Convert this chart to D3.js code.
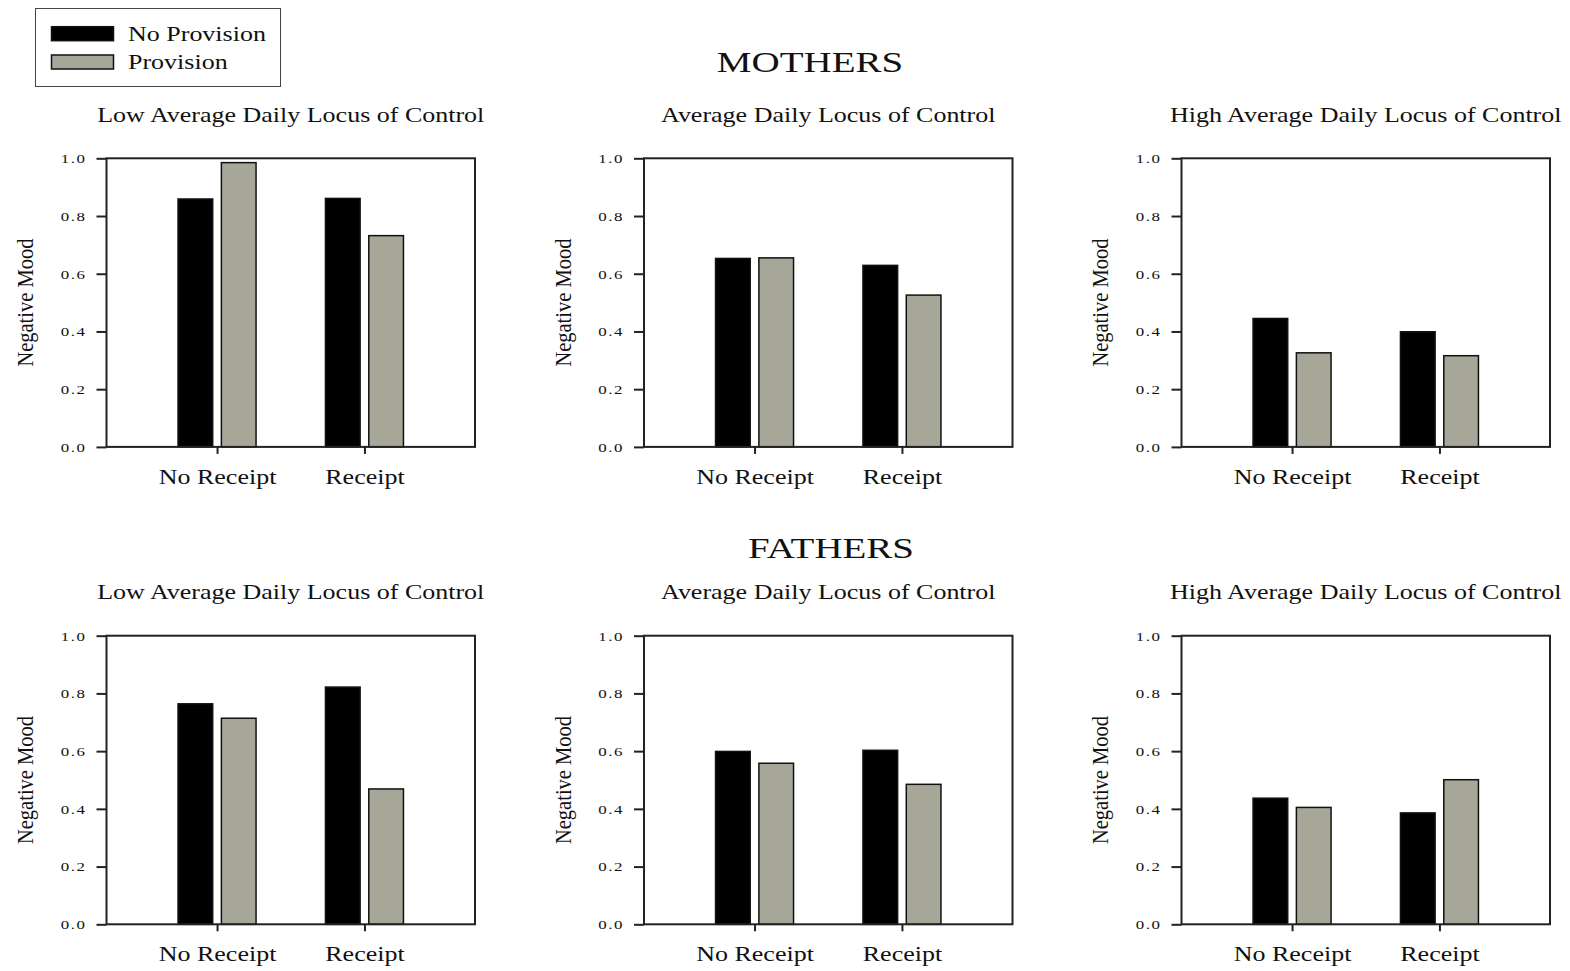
<!DOCTYPE html>
<html>
<head>
<meta charset="utf-8">
<script src="https://cdn.jsdelivr.net/npm/d3@7"></script>
<style>
  body { margin: 0; background: #fff; }
  text { font-family: "Liberation Serif", "Times New Roman", serif; fill: #111; }
</style>
</head>
<body>
<div id="canvas"></div>
<script>
"use strict"

/* Data */
let groupTitles = ["MOTHERS", "FATHERS"];
let panelTitles = ["Low Average Daily Locus of Control", "Average Daily Locus of Control", "High Average Daily Locus of Control"];
let receiptCats = ["No Receipt", "Receipt"];
let seriesNames = ["No Provision", "Provision"];
let yTickValues = [0, 0.2, 0.4, 0.6, 0.8, 1.0];

// each entry: one panel, values for [No Receipt, Receipt]
let mothersNoProvision = [[0.859, 0.861], [0.653, 0.629], [0.445, 0.399]];
let mothersProvision   = [[0.985, 0.732], [0.655, 0.526], [0.326, 0.316]];
let fathersNoProvision = [[0.764, 0.822], [0.599, 0.603], [0.437, 0.386]];
let fathersProvision   = [[0.714, 0.469], [0.558, 0.485], [0.405, 0.501]];

/* Drawing config */
let svgWidth = 1570;
let svgHeight = 971;
let stretch = 1.3;          // the original figure's text is stretched sideways
let colors = ["#000000", "#a7a799"];

let panelLefts = [106.5, 644, 1181.5];
let panelWidth = 368.5;
let rowTops = [158.3, 635.7];
let panelHeight = 288.6;
let groupTitleX = [810, 831];
let groupTitleY = [71.7, 558.3];

let svg = d3.select("#canvas")
    .append("svg")
    .attr("width", svgWidth)
    .attr("height", svgHeight);

function stretchedText(parent, x, y, size, str, anchor) {
    return parent.append("text")
        .attr("transform", "translate(" + x + "," + y + ") scale(" + stretch + ",1)")
        .attr("font-size", size)
        .attr("text-anchor", anchor || "middle")
        .text(str);
}

/* Legend */
svg.append("rect")
    .attr("x", 35.5).attr("y", 8.5)
    .attr("width", 245).attr("height", 78)
    .attr("fill", "none")
    .attr("stroke", "#444")
    .attr("stroke-width", 1);

let legendY = [26.7, 55];
for (let i = 0; i < seriesNames.length; i++) {
    svg.append("rect")
        .attr("x", 51.5).attr("y", legendY[i])
        .attr("width", 62).attr("height", 14)
        .attr("fill", colors[i])
        .attr("stroke", "#111")
        .attr("stroke-width", 1.5);
    stretchedText(svg, 128, legendY[i] + 14, 20, seriesNames[i], "start");
}

let datasets = [
    [mothersNoProvision, mothersProvision],
    [fathersNoProvision, fathersProvision]
];

let yScale = d3.scaleLinear().domain([0, 1]).range([panelHeight, 0]);
let xScale = d3.scalePoint().domain(receiptCats).range([0, panelWidth]).padding(0.75);
let seriesScale = d3.scaleBand().domain(seriesNames).range([-39, 39]).paddingInner(0.2);

for (let r = 0; r < groupTitles.length; r++) {
    stretchedText(svg, groupTitleX[r], groupTitleY[r], 30, groupTitles[r]);

    for (let p = 0; p < panelTitles.length; p++) {
        let g = svg.append("g")
            .attr("transform", "translate(" + panelLefts[p] + "," + rowTops[r] + ")");

        stretchedText(g, panelWidth / 2, -36.8, 20, panelTitles[p]);

        // bars
        let rows = [];
        receiptCats.forEach(function(cat, ci) {
            seriesNames.forEach(function(s, si) {
                rows.push({cat: cat, series: s, si: si, value: datasets[r][si][p][ci]});
            });
        });

        g.selectAll("rect.bar")
            .data(rows)
            .join("rect")
            .attr("class", "bar")
            .attr("x", function(d) { return xScale(d.cat) + seriesScale(d.series); })
            .attr("y", function(d) { return yScale(d.value); })
            .attr("width", seriesScale.bandwidth())
            .attr("height", function(d) { return panelHeight - yScale(d.value); })
            .attr("fill", function(d) { return colors[d.si]; })
            .attr("stroke", "#111")
            .attr("stroke-width", 1.5);

        // frame
        g.append("rect")
            .attr("width", panelWidth)
            .attr("height", panelHeight)
            .attr("fill", "none")
            .attr("stroke", "#222")
            .attr("stroke-width", 2);

        // y axis
        let yAxis = g.append("g")
            .call(d3.axisLeft(yScale)
                .tickValues(yTickValues)
                .tickSize(10)
                .tickSizeOuter(0)
                .tickPadding(10)
                .tickFormat(d3.format(".1f")));
        yAxis.select(".domain").remove();
        yAxis.selectAll("line").attr("stroke", "#222").attr("stroke-width", 2);
        yAxis.selectAll("text")
            .attr("x", null)
            .attr("dy", null)
            .attr("font-family", null)
            .attr("font-size", 13)
            .attr("letter-spacing", 1.2)
            .attr("dominant-baseline", "central")
            .attr("transform", "translate(-20,0) scale(" + stretch + ",1)");

        // x axis
        let xAxis = g.append("g")
            .attr("transform", "translate(0," + panelHeight + ")")
            .call(d3.axisBottom(xScale)
                .tickSize(7)
                .tickSizeOuter(0));
        xAxis.select(".domain").remove();
        xAxis.selectAll("line").attr("stroke", "#222").attr("stroke-width", 2);
        xAxis.selectAll("text")
            .attr("y", null)
            .attr("dy", null)
            .attr("font-family", null)
            .attr("font-size", 20)
            .attr("transform", "translate(0,36.6) scale(" + stretch + ",1)");

        // y label
        g.append("text")
            .attr("transform", "translate(-81.5," + (panelHeight / 2) + ") rotate(-90) scale(1,1.15)")
            .attr("font-size", 20.5)
            .attr("text-anchor", "middle")
            .attr("dominant-baseline", "central")
            .text("Negative Mood");
    }
}
</script>
</body>
</html>
